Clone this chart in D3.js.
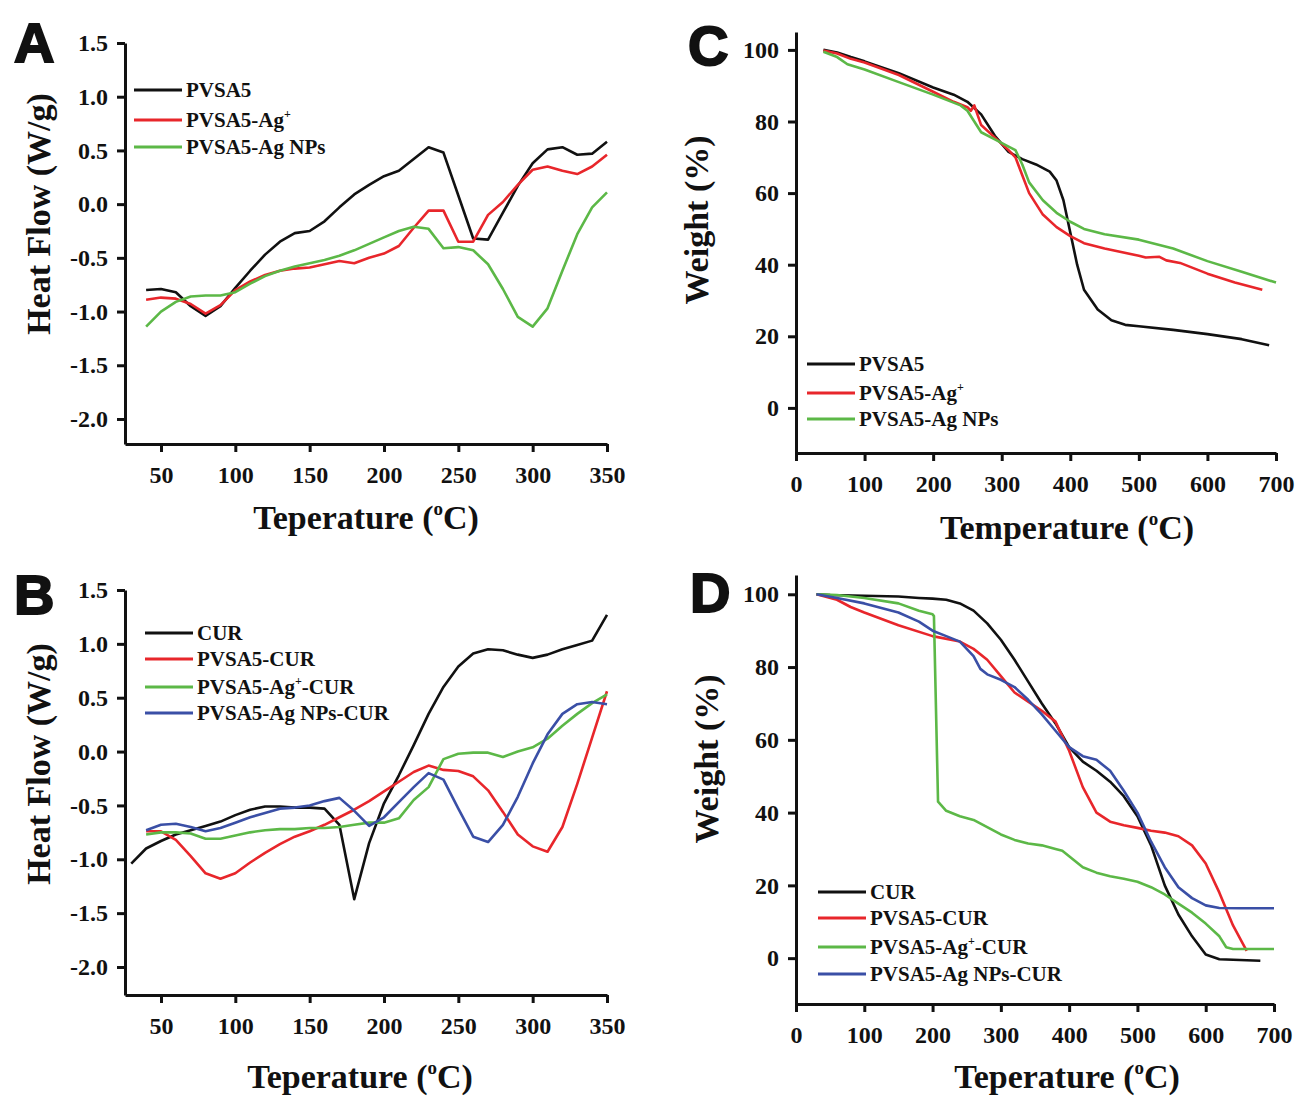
<!DOCTYPE html>
<html>
<head>
<meta charset="utf-8">
<script src="https://cdn.jsdelivr.net/npm/d3@7"></script>
<style>
  body { margin: 0; background: #fff; }
  text { font-family: "Liberation Serif", "Times New Roman", serif; font-weight: bold; fill: #111; }
</style>
</head>
<body>
<div id="chart"></div>
<script>
// ---- panel A : DSC of the polymer films ----
var tempA = [40,50,60,70,80,90,100,110,120,130,140,150,160,170,180,190,200,210,220,230,240,250,260,270,280,290,300,310,320,330,340,350];
var pvsa5A = [-0.80,-0.79,-0.82,-0.95,-1.04,-0.95,-0.78,-0.62,-0.47,-0.35,-0.27,-0.25,-0.16,-0.03,0.09,0.18,0.26,0.31,0.42,0.53,0.48,0.08,-0.32,-0.33,-0.08,0.17,0.38,0.51,0.53,0.46,0.47,0.58];
var agIonA = [-0.89,-0.87,-0.88,-0.93,-1.02,-0.94,-0.80,-0.72,-0.66,-0.62,-0.60,-0.59,-0.56,-0.53,-0.55,-0.50,-0.46,-0.39,-0.22,-0.06,-0.06,-0.35,-0.35,-0.10,0.02,0.18,0.32,0.35,0.31,0.28,0.35,0.46];
var agNpA = [-1.14,-1.00,-0.91,-0.86,-0.85,-0.85,-0.82,-0.74,-0.67,-0.62,-0.58,-0.55,-0.52,-0.48,-0.43,-0.37,-0.31,-0.25,-0.21,-0.23,-0.41,-0.40,-0.43,-0.56,-0.79,-1.05,-1.14,-0.97,-0.62,-0.28,-0.03,0.11];

// ---- panel B : DSC with curcumin ----
var tempCurB = [30,40,50,60,70,80,90,100,110,120,130,140,150,160,170,180,190,200,210,220,230,240,250,260,270,280,290,300,310,320,330,340,350];
var curB = [-1.04,-0.90,-0.83,-0.77,-0.73,-0.69,-0.65,-0.59,-0.54,-0.51,-0.51,-0.52,-0.52,-0.53,-0.68,-1.37,-0.85,-0.48,-0.22,0.06,0.35,0.60,0.79,0.91,0.95,0.94,0.90,0.87,0.90,0.95,0.99,1.03,1.27];
var tempB = [40,50,60,70,80,90,100,110,120,130,140,150,160,170,180,190,200,210,220,230,240,250,260,270,280,290,300,310,320,330,340,350];
var pvsaCurB = [-0.74,-0.74,-0.82,-0.97,-1.13,-1.18,-1.13,-1.03,-0.94,-0.86,-0.79,-0.74,-0.68,-0.61,-0.54,-0.46,-0.37,-0.28,-0.19,-0.13,-0.17,-0.18,-0.23,-0.36,-0.56,-0.77,-0.88,-0.93,-0.70,-0.30,0.13,0.56];
var agIonCurB = [-0.77,-0.75,-0.75,-0.76,-0.81,-0.81,-0.78,-0.75,-0.73,-0.72,-0.72,-0.71,-0.71,-0.70,-0.68,-0.66,-0.66,-0.62,-0.45,-0.33,-0.07,-0.02,-0.01,-0.01,-0.05,0.00,0.04,0.12,0.24,0.35,0.45,0.53];
var agNpCurB = [-0.73,-0.68,-0.67,-0.70,-0.74,-0.71,-0.66,-0.61,-0.57,-0.53,-0.52,-0.50,-0.46,-0.43,-0.55,-0.69,-0.61,-0.47,-0.33,-0.20,-0.26,-0.53,-0.79,-0.84,-0.68,-0.42,-0.11,0.16,0.35,0.44,0.46,0.44];

// ---- panel C : TGA of the polymer films ----
var tPvsa5C = [40,60,80,100,150,200,230,250,270,290,310,330,350,370,380,390,400,410,420,440,460,480,500,550,600,650,690];
var pvsa5C = [100,99.3,98,96.8,93.5,89.5,87.5,85.5,82,76,71.5,69.5,68,66,63.5,58,49,40,33,27.5,24.5,23.2,22.8,21.8,20.6,19.2,17.5];
var tAgIonC = [40,60,80,100,150,200,230,250,255,260,270,290,310,320,330,340,360,380,400,420,450,500,510,530,540,560,600,640,680];
var agIonC = [99.8,99,97.5,96.5,93,88.3,85.5,84,83,84.5,79,75.5,72,70,65,60,54,50.5,48,46,44.5,42.5,42,42.2,41.2,40.5,37.5,35,33];
var tAgNpC = [40,60,75,100,150,200,240,250,260,270,290,310,320,330,340,360,380,400,420,450,500,520,550,600,650,700];
var agNpC = [99.5,98,96,94.5,91,87.5,84.5,83,80,77,75,73,72,68,63,58,54.5,52,50,48.5,47,46,44.5,41,38,35];

// ---- panel D : TGA with curcumin ----
var tCurD = [30,50,100,150,180,200,220,240,260,280,300,320,340,360,380,400,420,440,460,480,500,520,540,560,580,600,620,650,680];
var curD = [100,99.8,99.6,99.4,99,98.8,98.5,97.5,95.5,92,87.5,82,76,70,64.5,58,54,51.5,48.5,44.5,39,31,20,12,6,1,-0.3,-0.5,-0.7];
var tPvsaCurD = [30,60,80,100,150,200,240,260,280,300,320,340,360,380,400,420,440,460,480,500,520,540,560,580,600,620,640,660];
var pvsaCurD = [100,98.5,96.5,95,91.5,88.5,87,85,82,77.5,73,70.5,68,65,57,47,40,37.5,36.5,35.8,35,34.5,33.5,31,26,18,9,2];
var tAgIonCurD = [30,60,100,150,180,200,202,208,220,240,260,280,300,320,340,360,380,390,400,420,440,460,480,500,520,540,560,580,600,620,630,640,700];
var agIonCurD = [100,99.8,99,97.5,95.5,94.5,94,43,40.5,39,38,36,34,32.5,31.5,31,30,29.5,28,25,23.5,22.5,21.8,21,19.5,17.5,15,12.5,9.5,6,3,2.5,2.5];
var tAgNpCurD = [30,60,100,150,180,200,220,240,260,270,280,300,320,340,360,380,400,420,440,460,480,500,520,540,560,580,600,620,650,700];
var agNpCurD = [100,99,97.5,95,92.5,90,88.5,87,83,79.5,78,76.5,74.5,71,67,62.5,58,55.5,54.5,51.5,46,40,32,25,19.5,16.5,14.5,13.8,13.7,13.7];

var dscTicks = [50,100,150,200,250,300,350];
var dscYTicks = [1.5,1.0,0.5,0.0,-0.5,-1.0,-1.5,-2.0];
var tgaTicks = [0,100,200,300,400,500,600,700];
var tgaYTicks = [100,80,60,40,20,0];

var BLACK = "#111111", RED = "#e8262b", GREEN = "#5cb847", BLUE = "#3a4fa6";

var svg = d3.select("#chart").append("svg")
    .attr("width", 1299)
    .attr("height", 1096);

//draws one panel: axes, curves, legend and titles
function panel(cfg) {
    var x = d3.scaleLinear().domain(cfg.xDomain).range(cfg.xRange);
    var y = d3.scaleLinear().domain(cfg.yDomain).range(cfg.yRange);
    var g = svg.append("g");

    var line = d3.line()
        .x(function(d){ return x(d[0]); })
        .y(function(d){ return y(d[1]); });

    cfg.series.forEach(function(s){
        g.append("path")
            .datum(d3.zip(s.t, s.v))
            .attr("d", line)
            .attr("fill", "none")
            .attr("stroke", s.color)
            .attr("stroke-width", 2.6)
            .attr("stroke-linejoin", "round");
    });

    //x axis
    var xa = g.append("g")
        .attr("transform", "translate(0," + cfg.yRange[0] + ")")
        .call(d3.axisBottom(x).tickValues(cfg.xTicks).tickSize(8).tickSizeOuter(0).tickPadding(14)
            .tickFormat(d3.format("d")));
    //y axis
    var ya = g.append("g")
        .attr("transform", "translate(" + cfg.xRange[0] + ",0)")
        .call(d3.axisLeft(y).tickValues(cfg.yTicks).tickSize(8).tickSizeOuter(0).tickPadding(9)
            .tickFormat(cfg.yFormat));

    [xa, ya].forEach(function(a){
        a.select(".domain").attr("stroke", "#111").attr("stroke-width", 3);
        a.selectAll(".tick line").attr("stroke", "#111").attr("stroke-width", 3);
        a.selectAll(".tick text")
            .attr("fill", "#111")
            .style("font-family", "'Liberation Serif', serif")
            .style("font-weight", "bold")
            .style("font-size", "24px");
    });

    //legend
    cfg.series.forEach(function(s, i){
        var ly = cfg.legendY[i];
        g.append("line")
            .attr("x1", cfg.legendX).attr("x2", cfg.legendX + 48)
            .attr("y1", ly).attr("y2", ly)
            .attr("stroke", s.color)
            .attr("stroke-width", 3);
        var t = g.append("text")
            .attr("x", cfg.legendX + 52)
            .attr("y", ly + 7)
            .style("font-size", "21px");
        t.append("tspan").text(s.name[0]);
        if (s.name.length > 1) {
            t.append("tspan").attr("dy", -9).style("font-size", "12px").text(s.name[1]);
            t.append("tspan").attr("dy", 9).text(s.name[2]);
        }
    });

    //x title with superscript degree
    var xt = g.append("text")
        .attr("x", cfg.xTitle[0])
        .attr("y", cfg.xTitle[1])
        .attr("text-anchor", "middle")
        .style("font-size", "34px");
    xt.append("tspan").text(cfg.xLabel + " (");
    xt.append("tspan").attr("dy", -14).style("font-size", "19px").text("o");
    xt.append("tspan").attr("dy", 14).text("C)");

    //y title
    g.append("text")
        .attr("transform", "translate(" + cfg.yTitle[0] + "," + cfg.yTitle[1] + ") rotate(-90)")
        .attr("text-anchor", "middle")
        .attr("dy", "0.35em")
        .style("font-size", "34px")
        .text(cfg.yLabel);

    //panel letter
    g.append("text")
        .attr("x", cfg.letter[0])
        .attr("y", cfg.letter[1])
        .style("font-family", "'Liberation Sans', Arial, sans-serif")
        .style("font-size", "56px")
        .attr("stroke", "#111")
        .attr("stroke-width", 2)
        .text(cfg.letterText);
}

//plain hyphen minus like the original figure
var fmt1 = function(d){ return d3.format(".1f")(d).replace("\u2212", "-"); };

panel({
    letterText: "A", letter: [14, 62],
    xDomain: [25.8, 350], xRange: [125, 607],
    yDomain: [-2.233, 1.5], yRange: [444, 43],
    xTicks: dscTicks, yTicks: dscYTicks, yFormat: fmt1,
    xLabel: "Teperature", xTitle: [366, 529],
    yLabel: "Heat Flow (W/g)", yTitle: [38, 214],
    legendX: 134, legendY: [90, 120, 147],
    series: [
        {name: ["PVSA5"], t: tempA, v: pvsa5A, color: BLACK},
        {name: ["PVSA5-Ag", "+", ""], t: tempA, v: agIonA, color: RED},
        {name: ["PVSA5-Ag NPs"], t: tempA, v: agNpA, color: GREEN}
    ]
});

panel({
    letterText: "B", letter: [14, 614],
    xDomain: [25.8, 350], xRange: [125, 607],
    yDomain: [-2.26, 1.5], yRange: [995, 590],
    xTicks: dscTicks, yTicks: dscYTicks, yFormat: fmt1,
    xLabel: "Teperature", xTitle: [360, 1088],
    yLabel: "Heat Flow (W/g)", yTitle: [38, 764],
    legendX: 145, legendY: [633, 659, 687, 713],
    series: [
        {name: ["CUR"], t: tempCurB, v: curB, color: BLACK},
        {name: ["PVSA5-CUR"], t: tempB, v: pvsaCurB, color: RED},
        {name: ["PVSA5-Ag", "+", "-CUR"], t: tempB, v: agIonCurB, color: GREEN},
        {name: ["PVSA5-Ag NPs-CUR"], t: tempB, v: agNpCurB, color: BLUE}
    ]
});

panel({
    letterText: "C", letter: [688, 65],
    xDomain: [0, 700], xRange: [796, 1276],
    yDomain: [-12.6, 105], yRange: [453, 32],
    xTicks: tgaTicks, yTicks: tgaYTicks, yFormat: d3.format("d"),
    xLabel: "Temperature", xTitle: [1067, 539],
    yLabel: "Weight (%)", yTitle: [696, 220],
    legendX: 807, legendY: [364, 393, 419],
    series: [
        {name: ["PVSA5"], t: tPvsa5C, v: pvsa5C, color: BLACK},
        {name: ["PVSA5-Ag", "+", ""], t: tAgIonC, v: agIonC, color: RED},
        {name: ["PVSA5-Ag NPs"], t: tAgNpC, v: agNpC, color: GREEN}
    ]
});

panel({
    letterText: "D", letter: [690, 612],
    xDomain: [0, 700], xRange: [796, 1274],
    yDomain: [-12.6, 105.3], yRange: [1004, 575],
    xTicks: tgaTicks, yTicks: tgaYTicks, yFormat: d3.format("d"),
    xLabel: "Teperature", xTitle: [1067, 1088],
    yLabel: "Weight (%)", yTitle: [706, 759],
    legendX: 818, legendY: [892, 918, 947, 974],
    series: [
        {name: ["CUR"], t: tCurD, v: curD, color: BLACK},
        {name: ["PVSA5-CUR"], t: tPvsaCurD, v: pvsaCurD, color: RED},
        {name: ["PVSA5-Ag", "+", "-CUR"], t: tAgIonCurD, v: agIonCurD, color: GREEN},
        {name: ["PVSA5-Ag NPs-CUR"], t: tAgNpCurD, v: agNpCurD, color: BLUE}
    ]
});
</script>
</body>
</html>
